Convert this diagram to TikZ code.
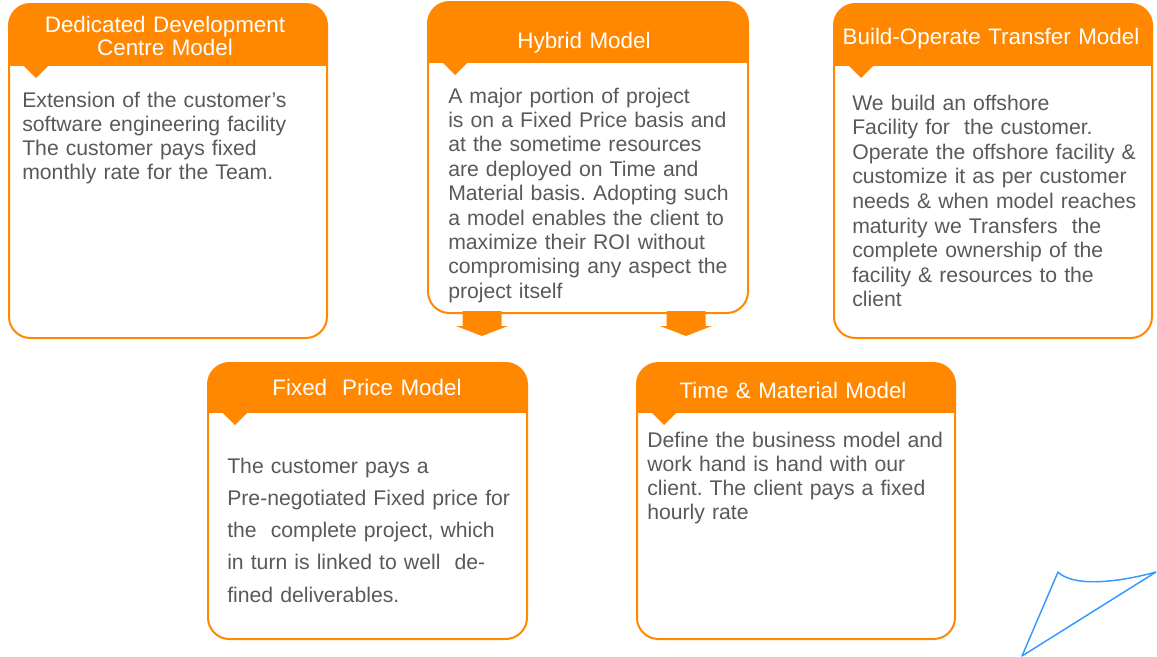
\documentclass[tikz,border=0pt]{standalone}
\usepackage{fontspec}
\setmainfont{Liberation Sans}
\usetikzlibrary{fit}
\frenchspacing

\definecolor{mborange}{RGB}{255,136,0}
\definecolor{bodygray}{RGB}{89,89,89}
\definecolor{planeblue}{RGB}{51,153,255}

\tikzset{
  boxline/.style={draw=mborange, line width=1.5pt, rounded corners=16pt, inner sep=0pt},
  headtext/.style={text=white, font=\fontsize{16.8}{17.3}\selectfont, text width=230pt, align=center, anchor=base, inner sep=0pt},
  bodytext/.style={text=bodygray, font=\fontsize{15.9}{#1}\selectfont, text width=235pt, align=left, anchor=base west, inner sep=0pt},
  planeline/.style={draw=planeblue, line width=1.1pt, line join=round},
}

% box with orange header and a small pointer
\newcommand\modelbox[6]{%
  \begin{scope}
    \clip[rounded corners=16pt] (#2,#3) rectangle (#4,#5);
    \fill[mborange] (#2,#3) rectangle (#4,#6);
  \end{scope}
  \fill[mborange] (#2+15,#6) -- (#2+39,#6) -- (#2+27,#6+12) -- cycle;
  \node[boxline, fit={(#2,#3) (#4,#5)}] (#1) {};
}

\begin{document}
\begin{tikzpicture}[x=0.75pt, y=-0.75pt]

  \useasboundingbox (0,0) rectangle (1157,657);

  % Draw the boxes
  \modelbox{ddc}{9}{4}{327}{338}{66}
  \modelbox{hyb}{428}{2}{748}{313}{63}
  \modelbox{bot}{834}{4}{1152}{338}{66}
  \modelbox{fix}{208}{363}{527}{639}{413}
  \modelbox{tam}{637}{363}{955}{639}{413}

  % Headers
  \node[headtext] (ddchead) at (165,32) {Dedicated Development\\Centre Model};
  \node[headtext] (hybhead) at (584,48) {Hybrid Model};
  \node[headtext] (bothead) at (991,44) {Build-Operate Transfer Model};
  \node[headtext] (fixhead) at (367,395) {Fixed\ \ Price Model};
  \node[headtext] (tamhead) at (793,398) {Time \& Material Model};

  % Texts
  \node[bodytext=18pt] (ddctext) at (22,107) {Extension of the customer’s\\
    software engineering facility\\
    The customer pays fixed\\
    monthly rate for the Team.};
  \node[bodytext=18.3pt] (hybtext) at (448,103) {A major portion of project\\
    is on a Fixed Price basis and\\
    at the sometime resources\\
    are deployed on Time and\\
    Material basis. Adopting such\\
    a model enables the client to\\
    maximize their ROI without\\
    compromising any aspect the\\
    project itself};
  \node[bodytext=18.45pt] (bottext) at (852,110) {We build an offshore\\
    Facility for\ \ the customer.\\
    Operate the offshore facility \&\\
    customize it as per customer\\
    needs \& when model reaches\\
    maturity we Transfers\ \ the\\
    complete ownership of the\\
    facility \& resources to the\\
    client};
  \node[bodytext=24.2pt] (fixtext) at (227,473) {The customer pays a\\
    Pre-negotiated Fixed price for\\
    the\ \ complete project, which\\
    in turn is linked to well\ \ de-\\
    fined deliverables.};
  \node[bodytext=18pt] (tamtext) at (647,447) {Define the business model and\\
    work hand is hand with our\\
    client. The client pays a fixed\\
    hourly rate};

  % Block arrows under the hybrid box
  \begin{scope}[shift={(hyb.south)}]
    \fill[mborange] (-125.5,-3) -- (-86.5,-3) -- (-86.5,12) -- (-80,12)
      -- (-106,22) -- (-132,12) -- (-125.5,12) -- cycle;
    \fill[mborange] (78.5,-3) -- (117.5,-3) -- (117.5,12) -- (124,12)
      -- (98,22) -- (72,12) -- (78.5,12) -- cycle;
  \end{scope}

  % Paper corner
  \draw[planeline] (1058,572) .. controls (1072,586) and (1112,584) .. (1156,572)
    -- (1022,656) -- cycle;

\end{tikzpicture}
\end{document}
